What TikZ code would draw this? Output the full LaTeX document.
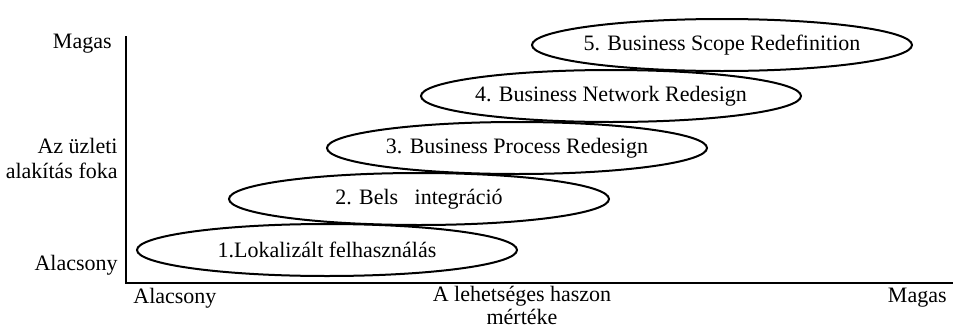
\documentclass[tikz,border=0pt]{standalone}
\usepackage{fontspec}
\setmainfont{Liberation Serif}
\usepackage{tikz}
\usetikzlibrary{shapes}

\begin{document}
\begin{tikzpicture}[
x=0.5pt, y=-0.5pt,
font=\fontsize{11}{12.5}\selectfont,
phasenode/.style={ellipse, align=center, draw=black, line width=1pt, minimum width=190pt, minimum height=26pt, inner xsep=-20pt, inner ysep=0pt},
axislabel/.style={align=right, inner sep=0pt},
axisline/.style={line width=1.4pt},
]
\useasboundingbox (0,0) rectangle (954,327);

%Axes
\coordinate (Origin) at (126,283);
\coordinate (Top) at (126,36);
\coordinate (Right) at (953,283);
\draw[axisline] (Top) -- (Origin) -- (Right);

%Axis labels
\node[axislabel, anchor=east](Magas Y) at (112,44){Magas};
\node[axislabel, anchor=east](Foka) at (118,158){Az üzleti\\alakítás foka};
\node[axislabel, anchor=east](Alacsony Y) at (118,265){Alacsony};
\node[axislabel, anchor=west](Alacsony X) at (133,298){Alacsony};
\node[align=center, inner sep=0pt, font=\fontsize{11}{11.5}\selectfont](Haszon) at (522,305){A lehetséges haszon\\mértéke};
\node[axislabel, anchor=east](Magas X) at (947,298){Magas};

%Ellipses
\node[phasenode](Lokalizalt) at (327,250){1.Lokalizált felhasználás};
\node[phasenode](Belso) at (419,199){2. Bels\phantom{ő} integráció};
\node[phasenode](Process) at (517,148){3. Business Process Redesign};
\node[phasenode](Network) at (611,96){4. Business Network Redesign};
\node[phasenode](Scope) at (722,45){5. Business Scope Redefinition};
\end{tikzpicture}
\end{document}
